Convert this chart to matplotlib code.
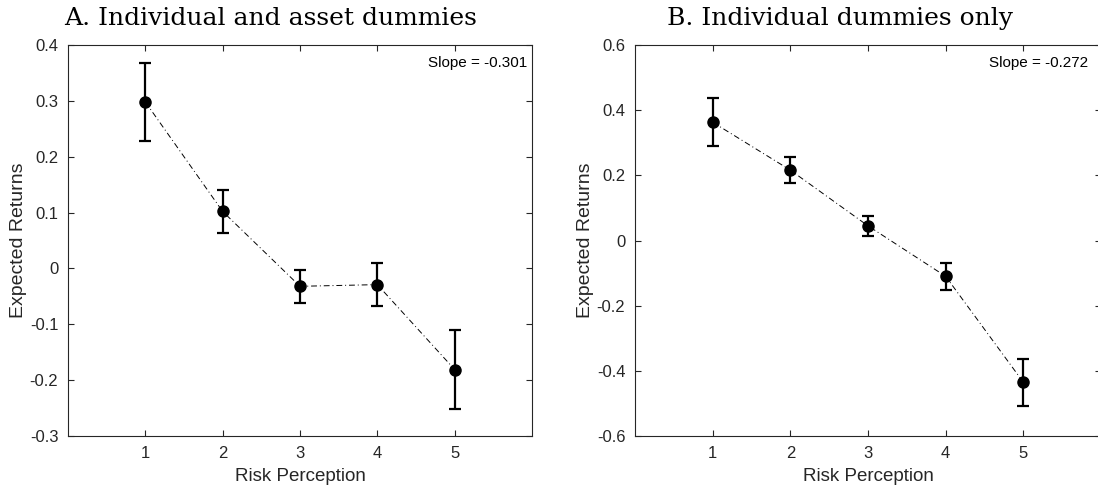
import numpy as np
import matplotlib.pyplot as plt

risk = [1, 2, 3, 4, 5]

# Panel A: individual and asset dummies
ret_a = [0.298, 0.102, -0.032, -0.029, -0.181]
err_a = [0.070, 0.038, 0.029, 0.039, 0.070]
slope_a = -0.301

# Panel B: individual dummies only
ret_b = [0.363, 0.216, 0.045, -0.110, -0.435]
err_b = [0.073, 0.040, 0.031, 0.041, 0.072]
slope_b = -0.272

plt.rcParams['font.family'] = ['Liberation Sans', 'DejaVu Sans']
grey = '#262626'

fig = plt.figure(figsize=(10.98, 4.92), dpi=100)
ax_a = fig.add_axes([68 / 1098, 56 / 492, 464 / 1098, 391 / 492])
ax_b = fig.add_axes([635 / 1098, 56 / 492, 466 / 1098, 391 / 492])


def draw(ax, vals, errs, slope, slope_x, title, title_x, ylim, yticks, ylabels):
    ax.plot(risk, vals, linestyle='-.', color='black', linewidth=0.7, dashes=(6, 3, 1, 3))
    ax.errorbar(risk, vals, yerr=errs, fmt='o', color='black', markersize=8,
                elinewidth=1.6, capsize=4, capthick=1.6)
    ax.set_xlim(0, 6)
    ax.set_ylim(*ylim)
    ax.set_xticks(risk)
    ax.set_yticks(yticks)
    ax.set_yticklabels(ylabels)
    ax.tick_params(direction='in', top=True, right=True, labelsize=12, colors=grey,
                   length=4, width=0.8, pad=7)
    for s in ax.spines.values():
        s.set_color(grey)
        s.set_linewidth(0.8)
    ax.set_xlabel('Risk Perception', fontsize=13.5, color=grey, labelpad=5)
    ax.set_ylabel('Expected Returns', fontsize=14, color=grey, labelpad=2)
    ax.text(slope_x, 0.955, f'Slope = {slope}', transform=ax.transAxes, ha='right', va='center',
            fontsize=11, color='black')
    fig.text(title_x / 1098, 1 - 25 / 492, title, family=['DejaVu Serif'], fontsize=18,
             ha='center', va='baseline')


draw(ax_a, ret_a, err_a, slope_a, 0.99, 'A. Individual and asset dummies', 271, (-0.3, 0.4),
     [-0.3, -0.2, -0.1, 0, 0.1, 0.2, 0.3, 0.4],
     ['-0.3', '-0.2', '-0.1', '0', '0.1', '0.2', '0.3', '0.4'])
draw(ax_b, ret_b, err_b, slope_b, 0.972, 'B. Individual dummies only', 840, (-0.6, 0.6),
     [-0.6, -0.4, -0.2, 0, 0.2, 0.4, 0.6],
     ['-0.6', '-0.4', '-0.2', '0', '0.2', '0.4', '0.6'])

fig.savefig('out.png', dpi=100)
